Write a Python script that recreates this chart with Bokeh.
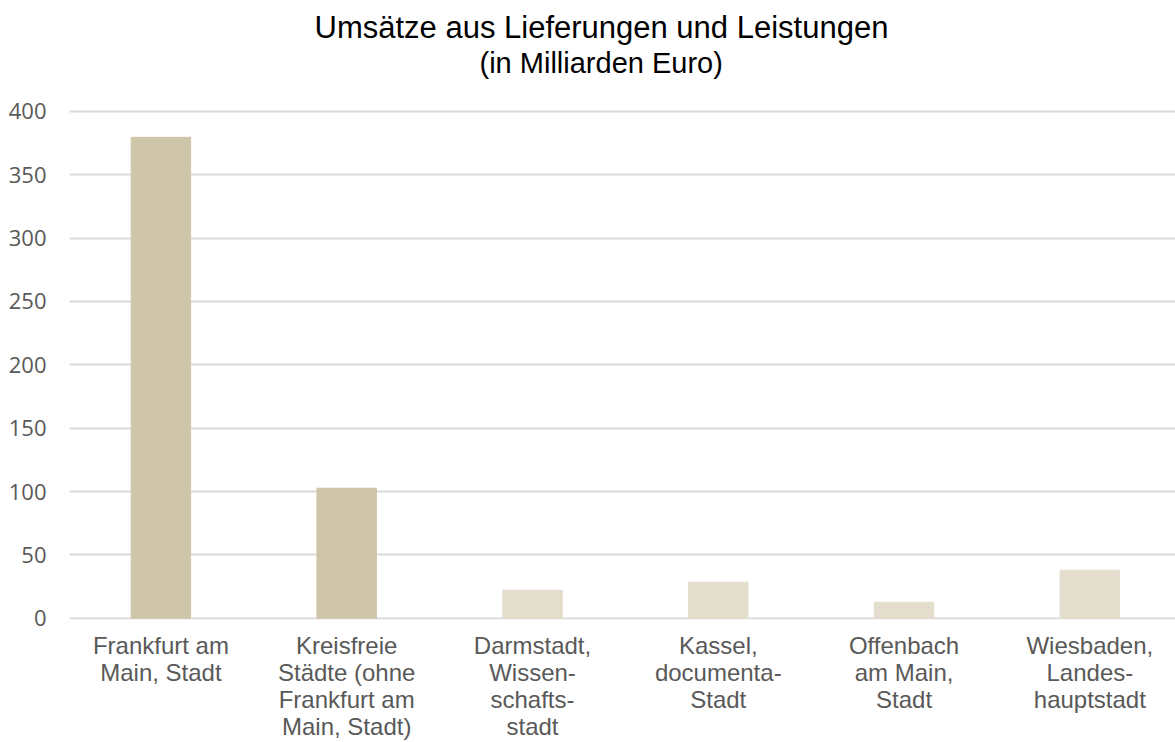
from bokeh.plotting import figure
from bokeh.models import ColumnDataSource, Range1d, FixedTicker, Title
from bokeh.embed import file_html
from bokeh.resources import INLINE

# --- data ---
categories = [
    "Frankfurt am\nMain, Stadt",
    "Kreisfreie\nStädte (ohne\nFrankfurt am\nMain, Stadt)",
    "Darmstadt,\nWissen-\nschafts-\nstadt",
    "Kassel,\ndocumenta-\nStadt",
    "Offenbach\nam Main,\nStadt",
    "Wiesbaden,\nLandes-\nhauptstadt",
]
values = [379.5, 102.6, 22.1, 28.4, 12.6, 37.9]
y_ticks = [0, 50, 100, 150, 200, 250, 300, 350, 400]

# --- styles ---
bar_colors = ["#CFC5A9", "#CFC5A9", "#E2DDCC", "#E2DDCC", "#E2DDCC", "#E2DDCC"]

xs = list(range(len(categories)))
src = ColumnDataSource(dict(x=xs, top=values, color=bar_colors))

p = figure(width=1175, height=742, output_backend="svg", toolbar_location=None,
           x_range=Range1d(-0.492, 5.461), y_range=Range1d(-1, 422),
           min_border_left=69, min_border_right=0, min_border_bottom=123,
           min_border_top=83)

p.vbar(x="x", top="top", bottom=0, width=0.32, color="color", source=src)

# Titles
p.title = Title(text="Umsätze aus Lieferungen und Leistungen", align="left",
                text_font="Liberation Sans", text_font_size="31px",
                text_font_style="normal", text_color="#000000", offset=245,
                standoff=0, vertical_align="bottom")
p.add_layout(Title(text="(in Milliarden Euro)", align="left", text_font="Liberation Sans",
                   text_font_size="29px", text_font_style="normal", text_color="#000000",
                   standoff=5, offset=410, vertical_align="top"), "above")

# Axes
p.yaxis.ticker = FixedTicker(ticks=y_ticks)
p.yaxis.axis_line_color = None
p.yaxis.major_tick_line_color = None
p.yaxis.minor_tick_line_color = None
p.yaxis.major_label_text_font = "Open Sans"
p.yaxis.major_label_text_font_size = "22px"
p.yaxis.major_label_text_color = "#595959"
p.yaxis.major_label_standoff = 17

p.xaxis.ticker = FixedTicker(ticks=xs)
p.xaxis.major_label_overrides = {i: c for i, c in zip(xs, categories)}
p.xaxis.axis_line_color = None
p.xaxis.major_tick_line_color = None
p.xaxis.minor_tick_line_color = None
p.xaxis.major_label_text_font = "Liberation Sans"
p.xaxis.major_label_text_font_size = "24px"
p.xaxis.major_label_text_color = "#595959"
p.xaxis.major_label_text_line_height = 1.0
p.xaxis.major_label_standoff = 6

p.xgrid.grid_line_color = None
p.ygrid.ticker = FixedTicker(ticks=y_ticks)
p.ygrid.grid_line_color = "#D9D9D9"
p.ygrid.grid_line_width = 2

p.outline_line_color = None
p.background_fill_color = "white"
p.border_fill_color = "white"

open("out.html", "w").write(file_html(p, INLINE))
